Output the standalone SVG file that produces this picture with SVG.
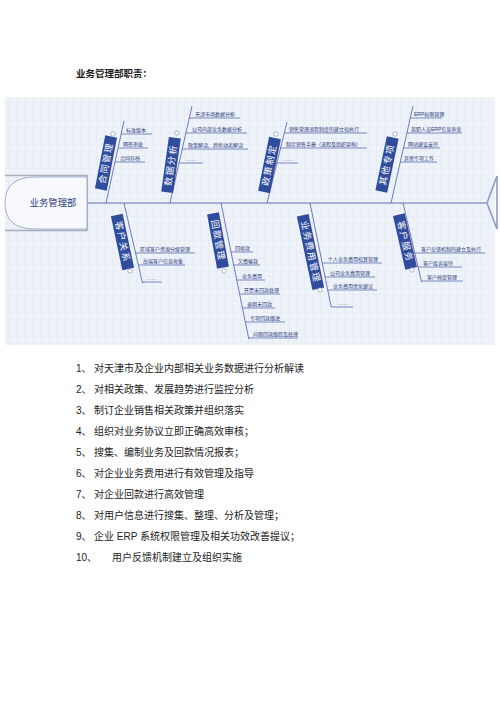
<svg xmlns="http://www.w3.org/2000/svg" width="500" height="707" viewBox="0 0 500 707">
<style>
.cjk{font-family:"Liberation Sans","Noto Sans CJK SC",sans-serif;}
.title{font-size:9.5px;font-weight:bold;fill:#1a1a1a;}
.li{font-size:10px;fill:#222;}
.box{fill:#2f4c9d;}
.cat{font-size:9px;fill:#fff;letter-spacing:1.5px;text-anchor:middle;dominant-baseline:central;}
.it{font-size:5px;fill:#2b3a7a;}
.ul{stroke:#5b6fb6;stroke-width:0.8;}
.bone{stroke:#5b6fb6;stroke-width:0.9;fill:none;}
.spine{stroke:#8c9ccb;stroke-width:1.6;fill:none;}
.knob{fill:#fff;stroke:#7f89a8;stroke-width:0.6;}
</style>
<defs>
<pattern id="grid" width="8" height="6" patternUnits="userSpaceOnUse">
<rect width="8" height="6" fill="#eef2f9"/>
<path d="M0 0.5H8M0.5 0V6" stroke="#e7ecf5" stroke-width="1"/>
</pattern>
</defs>
<rect width="500" height="707" fill="#fff"/>
<text class="cjk title" x="76" y="77">业务管理部职责：</text>
<rect x="5" y="97" width="490" height="248" fill="url(#grid)"/>

<g id="head">
<path d="M5,175.5H87V230.5H5" fill="none" stroke="#a7adbb" stroke-width="1.4"/>
<path d="M87,177H35Q5,177 5,203Q5,229 35,229H87Z" fill="#f7f9fd" stroke="#8d9bc6" stroke-width="0.8"/>
<text class="cjk" x="53" y="203" font-size="9.3" fill="#2d3c7a" text-anchor="middle" dominant-baseline="central">业务管理部</text>
</g>

<g id="connectors">
<path class="spine" d="M87,203H487"/>
<path class="spine" d="M497,176L487,203L497,229Z"/>
<path class="bone" d="M106,203L124,121"/>
<path class="bone" d="M170,203L192,106"/>
<path class="bone" d="M267,203L287,122"/>
<path class="bone" d="M391,203L413,106"/>
<path class="bone" d="M124,203L142.5,283"/>
<path class="bone" d="M221,203L248.8,339"/>
<path class="bone" d="M310,203L331.2,307"/>
<path class="bone" d="M403,203L421.6,282"/>
</g>

<g id="cat-hetong" class="cjk">
<g transform="translate(106,163) rotate(11)"><rect class="box" x="-6" y="-27" width="12" height="54"/><text class="cat" transform="rotate(-90)">合同管理</text></g>
<circle class="knob" cx="113" cy="134" r="2.2"/>
</g>
<g id="cat-shuju" class="cjk">
<g transform="translate(171,165) rotate(8)"><rect class="box" x="-6" y="-27.5" width="12" height="55"/><text class="cat" transform="rotate(-90)">数据分析</text></g>
<circle class="knob" cx="177" cy="133" r="2.2"/>
</g>
<g id="cat-zhengce" class="cjk">
<g transform="translate(269.5,165) rotate(11.5)"><rect class="box" x="-6" y="-27.5" width="12" height="55"/><text class="cat" transform="rotate(-90)">政策制定</text></g>
<circle class="knob" cx="276" cy="134" r="2.2"/>
</g>
<g id="cat-qita" class="cjk">
<g transform="translate(387,164.5) rotate(12)"><rect class="box" x="-6" y="-27.5" width="12" height="55"/><text class="cat" transform="rotate(-90)">其他专项</text></g>
<circle class="knob" cx="395" cy="134" r="2.2"/>
</g>
<g id="cat-kehuguanxi" class="cjk">
<g transform="translate(122.5,242) rotate(-12)"><rect class="box" x="-6" y="-27.5" width="12" height="55"/><text class="cat" transform="rotate(90)">客户关系</text></g>
<circle class="knob" cx="130" cy="271" r="2.2"/>
</g>
<g id="cat-huikuan" class="cjk">
<g transform="translate(218,240.5) rotate(-10.5)"><rect class="box" x="-6" y="-27.5" width="12" height="55"/><text class="cat" transform="rotate(90)">回款管理</text></g>
<circle class="knob" cx="224" cy="271" r="2.2"/>
</g>
<g id="cat-feiyong" class="cjk">
<g transform="translate(310.5,252) rotate(-12)"><rect class="box" x="-6" y="-37.5" width="12" height="75"/><text class="cat" transform="rotate(90)">业务费用管理</text></g>
<circle class="knob" cx="320" cy="290" r="2.2"/>
</g>
<g id="cat-kehufuwu" class="cjk">
<g transform="translate(405,241.5) rotate(-12.9)"><rect class="box" x="-6" y="-27.5" width="12" height="55"/><text class="cat" transform="rotate(90)">客户服务</text></g>
<circle class="knob" cx="412" cy="270" r="2.2"/>
</g>

<g id="items-hetong" class="cjk">
<g id="i-ht1"><line class="ul" x1="121.1" y1="134" x2="152" y2="134"/><text class="it" x="126" y="132">标准版本</text></g>
<g id="i-ht2"><line class="ul" x1="118.1" y1="148" x2="148" y2="148"/><text class="it" x="123" y="146">网签审批</text></g>
<g id="i-ht3"><line class="ul" x1="115" y1="162" x2="145" y2="162"/><text class="it" x="120" y="160">合同存档</text></g>
</g>
<g id="items-shuju" class="cjk">
<g id="i-sj1"><line class="ul" x1="189.3" y1="118" x2="240" y2="118"/><text class="it" x="195" y="116">天津市场数据分析</text></g>
<g id="i-sj2"><line class="ul" x1="185.9" y1="133" x2="247" y2="133"/><text class="it" x="192" y="131">公司内部业务数据分析</text></g>
<g id="i-sj3"><line class="ul" x1="182.2" y1="149" x2="248" y2="149"/><text class="it" x="188" y="147">政策解读、趋势动态解读</text></g>
<g id="i-sj4"><line class="ul" x1="179.1" y1="163" x2="203" y2="163"/><text class="it" x="186" y="161">……</text></g>
</g>
<g id="items-zhengce" class="cjk">
<g id="i-zc1"><line class="ul" x1="284.3" y1="133" x2="367" y2="133"/><text class="it" x="289" y="131" font-size="5.4">销售管理流程制度的建立和执行</text></g>
<g id="i-zc2"><line class="ul" x1="280.6" y1="148" x2="367" y2="148"/><text class="it" x="286" y="146" font-size="5.1">制定销售手册（流程及组织架构）</text></g>
<g id="i-zc3"><line class="ul" x1="276.9" y1="163" x2="298" y2="163"/><text class="it" x="283" y="161">……</text></g>
</g>
<g id="items-qita" class="cjk">
<g id="i-qt1"><line class="ul" x1="410.3" y1="118" x2="442" y2="118"/><text class="it" x="414" y="116">ERP权限管理</text></g>
<g id="i-qt2"><line class="ul" x1="406.9" y1="133" x2="462" y2="133"/><text class="it" x="411" y="131">离职人员ERP信息审查</text></g>
<g id="i-qt3"><line class="ul" x1="403.5" y1="148" x2="440" y2="148"/><text class="it" x="408" y="146">网站建设支持</text></g>
<g id="i-qt4"><line class="ul" x1="400.3" y1="162" x2="437" y2="162"/><text class="it" x="404" y="160">其他专项工作</text></g>
</g>
<g id="items-kehuguanxi" class="cjk">
<g id="i-kg1"><line class="ul" x1="135.6" y1="253" x2="195" y2="253"/><text class="it" x="140" y="251">区域客户资源分级管理</text></g>
<g id="i-kg2"><line class="ul" x1="138.4" y1="265" x2="185" y2="265"/><text class="it" x="143" y="263">高端客户信息收集</text></g>
<g id="i-kg3"><line class="ul" x1="142.3" y1="282" x2="162" y2="282"/><text class="it" x="146" y="280">……</text></g>
</g>
<g id="items-huikuan" class="cjk">
<g id="i-hk1"><line class="ul" x1="231" y1="252" x2="253" y2="252"/><text class="it" x="235" y="250">回收款</text></g>
<g id="i-hk2"><line class="ul" x1="233.7" y1="265" x2="260" y2="265"/><text class="it" x="238" y="263">欠费催款</text></g>
<g id="i-hk3"><line class="ul" x1="236.7" y1="280" x2="265" y2="280"/><text class="it" x="242" y="278">业务费用</text></g>
<g id="i-hk4"><line class="ul" x1="239.6" y1="294" x2="280" y2="294"/><text class="it" x="244" y="292">开票未回款处理</text></g>
<g id="i-hk5"><line class="ul" x1="242.5" y1="308" x2="275" y2="308"/><text class="it" x="247" y="306">逾期未回款</text></g>
<g id="i-hk6"><line class="ul" x1="245.3" y1="322" x2="285" y2="322"/><text class="it" x="250" y="320">专项回款跟进</text></g>
<g id="i-hk7"><line class="ul" x1="248.6" y1="338" x2="298" y2="338"/><text class="it" x="253" y="336">问题回款跟踪及处理</text></g>
</g>
<g id="items-feiyong" class="cjk">
<g id="i-fy1"><line class="ul" x1="322.2" y1="263" x2="382" y2="263"/><text class="it" x="328" y="261">个人业务费用核算管理</text></g>
<g id="i-fy2"><line class="ul" x1="325.1" y1="277" x2="375" y2="277"/><text class="it" x="330" y="275">公司业务费用管理</text></g>
<g id="i-fy3"><line class="ul" x1="327.7" y1="290" x2="377" y2="290"/><text class="it" x="333" y="288">业务费用优化建议</text></g>
<g id="i-fy4"><line class="ul" x1="331.2" y1="307" x2="353" y2="307"/><text class="it" x="338" y="305">……</text></g>
</g>
<g id="items-kehufuwu" class="cjk">
<g id="i-kf1"><line class="ul" x1="414.7" y1="253" x2="485" y2="253"/><text class="it" x="421" y="251">客户反馈机制的建立及执行</text></g>
<g id="i-kf2"><line class="ul" x1="418" y1="267" x2="462" y2="267"/><text class="it" x="423" y="265">客户投诉接待</text></g>
<g id="i-kf3"><line class="ul" x1="421.3" y1="281" x2="463" y2="281"/><text class="it" x="427" y="279">客户档案管理</text></g>
</g>

<g id="duties" class="cjk li">
<text x="76" y="372">1、</text><text x="94" y="372">对天津市及企业内部相关业务数据进行分析解读</text>
<text x="76" y="393">2、</text><text x="94" y="393">对相关政策、发展趋势进行监控分析</text>
<text x="76" y="414">3、</text><text x="94" y="414">制订企业销售相关政策并组织落实</text>
<text x="76" y="435">4、</text><text x="94" y="435">组织对业务协议立即正确高效审核；</text>
<text x="76" y="456">5、</text><text x="94" y="456">搜集、编制业务及回款情况报表；</text>
<text x="76" y="477">6、</text><text x="94" y="477">对企业业务费用进行有效管理及指导</text>
<text x="76" y="498">7、</text><text x="94" y="498">对企业回款进行高效管理</text>
<text x="76" y="519">8、</text><text x="94" y="519">对用户信息进行搜集、整理、分析及管理；</text>
<text x="76" y="540">9、</text><text x="94" y="540">企业 ERP 系统权限管理及相关功效改善提议；</text>
<text x="76" y="561">10、</text><text x="112" y="561">用户反馈机制建立及组织实施</text>
</g>
</svg>
